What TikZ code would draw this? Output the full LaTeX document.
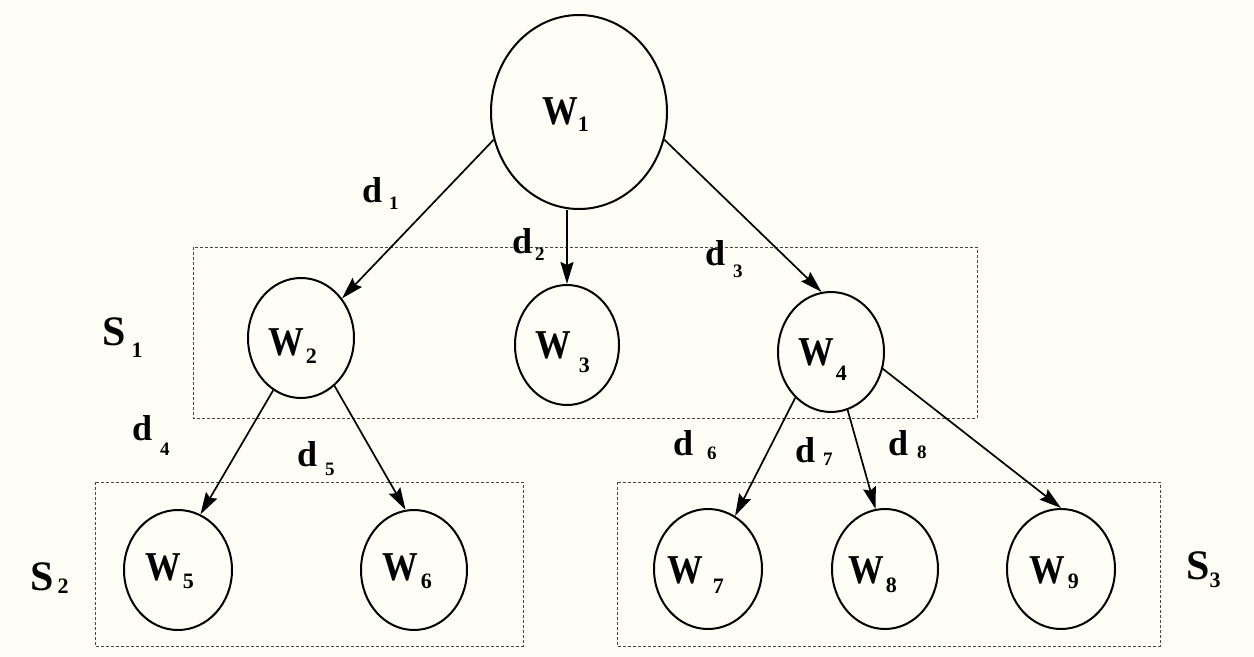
\documentclass[tikz,border=0pt]{standalone}
\usepackage{fontspec}
\setmainfont{Liberation Serif}
\usepackage{graphicx}
\usetikzlibrary{arrows.meta,shapes.geometric}
\definecolor{bgcream}{RGB}{254,253,246}
\definecolor{boxgray}{RGB}{70,70,70}
\newcommand\wtxt[3]{\scalebox{0.87}[1]{\fontsize{41bp}{41bp}\selectfont W}\hspace*{#1bp}\raisebox{-#2bp}{\fontsize{22bp}{22bp}\selectfont #3}}
\newcommand\dtxt[3]{{\fontsize{36bp}{36bp}\selectfont d}\hspace*{#1bp}\raisebox{-#2bp}{\fontsize{19bp}{19bp}\selectfont #3}}
\newcommand\stxt[3]{{\fontsize{42bp}{42bp}\selectfont S}\hspace*{#1bp}\raisebox{-#2bp}{\fontsize{22bp}{22bp}\selectfont #3}}
\tikzset{
  wnode/.style={draw, ellipse, line width=2bp, inner sep=0pt, minimum width=106bp, minimum height=120bp},
  txt/.style={anchor=base west, inner sep=0pt, font=\bfseries},
  grp/.style={draw=boxgray, line width=0.9bp, dash pattern=on 3bp off 2bp},
  arr/.style={line width=1.7bp, -{Stealth[length=22bp,width=13bp,inset=3bp]}}
}
\begin{document}
\begin{tikzpicture}[x=1bp,y=-1bp]
\fill[bgcream] (0,0) rectangle (1254,657);
\useasboundingbox (0,0) rectangle (1254,657);
% group boxes
\draw[grp] (193,247) rectangle (977,418);
\draw[grp] (95,482) rectangle (523,646);
\draw[grp] (617,482) rectangle (1160,646);
% ellipses
\node[wnode, minimum width=176bp, minimum height=194bp] (W1) at (579,112) {};
\node[wnode] (W2) at (301,338) {};
\node[wnode, minimum width=104bp] (W3) at (567,345) {};
\node[wnode] (W4) at (831,352) {};
\node[wnode, minimum width=108bp] (W5) at (178,570) {};
\node[wnode] (W6) at (414,570) {};
\node[wnode, minimum width=108bp] (W7) at (708,569) {};
\node[wnode] (W8) at (885,569) {};
\node[wnode, minimum width=108bp] (W9) at (1061,569) {};
% ellipse texts
\node[txt] (t1) at (542,125) {\wtxt{0}{7}{1}};
\node[txt] (t2) at (268,355) {\wtxt{2}{8}{2}};
\node[txt] (t3) at (535,358) {\wtxt{8}{14}{3}};
\node[txt] (t4) at (798,365) {\wtxt{2}{15}{4}};
\node[txt] (t5) at (145,580) {\wtxt{2}{8}{5}};
\node[txt] (t6) at (382,580) {\wtxt{3}{8}{6}};
\node[txt] (t7) at (667,583) {\wtxt{10}{10}{7}};
\node[txt] (t8) at (848,583) {\wtxt{2}{9}{8}};
\node[txt] (t9) at (1029,583) {\wtxt{3}{5}{9}};
% connectors
\draw[arr] (W1.198) -- (W2.44);
\draw[arr] (W3.north |- W1.south) -- (W3.north);
\draw[arr] (W1.342) -- (W4.99);
\draw[arr] (W2.242) -- (W5.68);
\draw[arr] (W2.305) -- (W6.98);
\draw[arr] (W4.232) -- (W7.63);
\draw[arr] (W4.286) -- (W8.99);
\draw[arr] (W4.342) -- (W9.90);
% d labels
\node[txt] (d1) at (362,203) {\dtxt{7}{7}{1}};
\node[txt] (d2) at (512,253) {\dtxt{3}{7}{2}};
\node[txt] (d3) at (705,265) {\dtxt{8}{12}{3}};
\node[txt] (d4) at (132,440) {\dtxt{8}{15}{4}};
\node[txt] (d5) at (297,466) {\dtxt{8}{9}{5}};
\node[txt] (d6) at (673,455) {\dtxt{14}{4}{6}};
\node[txt] (d7) at (795,462) {\dtxt{8}{3}{7}};
\node[txt] (d8) at (888,455) {\dtxt{9}{3}{8}};
% S labels
\node[txt] (s1) at (102,345) {\stxt{6}{12}{1}};
\node[txt] (s2) at (30,590) {\stxt{4}{3}{2}};
\node[txt] (s3) at (1186,579) {\stxt{0}{8}{3}};
\end{tikzpicture}
\end{document}
